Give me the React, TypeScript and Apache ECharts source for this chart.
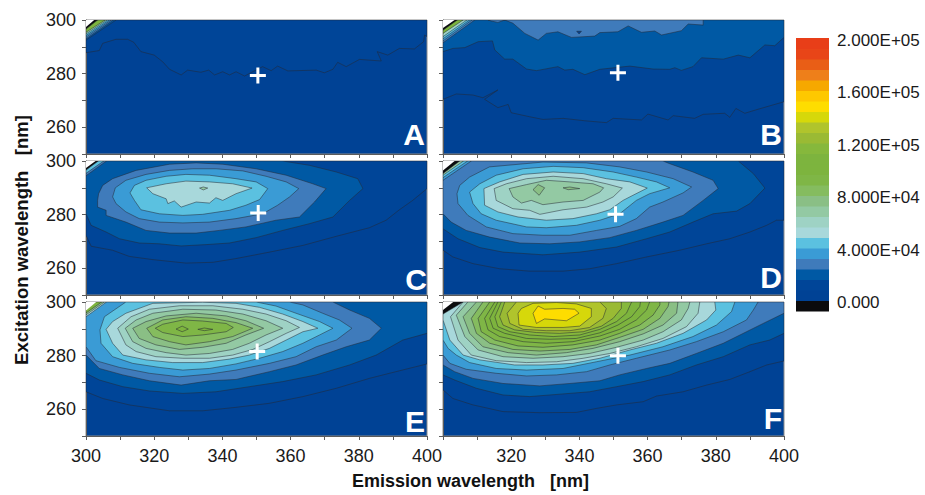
import React, { useEffect, useRef } from "react";
import * as echarts from "echarts";

type Contour = [number, number[][]];

// Colour-scale bands, bottom to top; index 0 is the under-range band, each band spans 8000 counts.
const bandColors = ["#0b0b0d", "#004295", "#004598", "#0059a4", "#3f7bbb", "#3a9bd5", "#5bc1e0", "#a8d8db", "#9ed2c4", "#93c9a3", "#8abf85", "#85bc5f", "#7fb646", "#7db43e", "#7db43e", "#86b83c", "#9aba34", "#b0c42c", "#d6d80a", "#fedd00", "#fec800", "#f6a800", "#ee7f1a", "#e95e16", "#e84518", "#e83e18"];
const bandLows = [-8000, 0, 8000, 16000, 24000, 32000, 40000, 48000, 56000, 64000, 72000, 80000, 88000, 96000, 104000, 112000, 120000, 128000, 136000, 144000, 152000, 160000, 168000, 176000, 184000, 192000];
const scaleTicks = [0, 40000, 80000, 120000, 160000, 200000];
const scaleTickLabels = ["0.000", "4.000E+04", "8.000E+04", "1.200E+05", "1.600E+05", "2.000E+05"];
const WHITE = 99;

const panelLetters = ["A", "B", "C", "D", "E", "F"];
const emissionLabelsE = [300, 320, 340, 360, 380, 400];
const emissionLabelsF = [320, 340, 360, 380, 400];
const excitationLabels = [260, 280, 300];

// Excitation peak markers [emission, excitation]
const markers = [[350.4, 279.3], [351.3, 280.3], [350.5, 280.6], [350.6, 280.1], [350.2, 281.5], [351.3, 279.9]];

const contoursA: Contour[] = [
  [2, [[300, 287.8], [303.9, 288.6], [304.9, 291.3], [308.8, 292.8], [312.2, 292.8], [314, 291.7], [316.1, 288.2], [320, 286.9], [322.5, 284.4], [324.5, 281.6], [327.9, 279.5], [329.8, 281.3], [333.7, 280.5], [336, 281.3], [337.7, 279.5], [340.1, 280.7], [342.1, 279.5], [344, 280.7], [346.5, 279.1], [351.8, 282.6], [354.3, 281.1], [356.2, 282.8], [359.2, 281], [367.5, 281.3], [369.9, 280.3], [372.4, 281.6], [373.8, 284.2], [376.3, 282.6], [380.2, 285.3], [386.6, 284.7], [385.4, 288.2], [388.5, 286.9], [391.9, 289.4], [396.3, 289.2], [399, 291.9], [399.3, 294.4], [400, 293.8], [400, 300], [300, 300]]],
  [3, [[300, 300], [308.8, 300], [300, 292.5]]],
  [4, [[300, 300], [308, 300], [300, 293]]],
  [5, [[300, 300], [307.4, 300], [300, 293.6]]],
  [6, [[300, 300], [306.8, 300], [300, 294.2]]],
  [9, [[300, 300], [306.2, 300], [300, 294.8]]],
  [13, [[300, 300], [305.6, 300], [300, 295.4]]],
  [0, [[300, 300], [303.4, 300], [300, 296.6]]],
  [WHITE, [[300, 300], [302.4, 300], [300, 297.4]]],
];

const contoursB: Contour[] = [
  [2, [[300, 270.4], [303.9, 272.4], [308.8, 272], [311.7, 271], [316.1, 273.9], [312.2, 270.4], [316.1, 267.3], [319.1, 268.5], [320, 265.4], [325.4, 263.9], [329.3, 262.9], [335.2, 263.3], [341.6, 262.4], [347.9, 261.7], [349.9, 263.3], [358.2, 262.7], [360.1, 264.9], [366, 262.7], [367.5, 264.3], [373.8, 263.3], [376.3, 264.8], [382.6, 265.2], [384.1, 263.7], [385.9, 267], [388.5, 265.2], [392.4, 266.7], [400, 269.5], [400, 300], [300, 300]]],
  [3, [[300, 288.2], [302.9, 289.4], [306.4, 289.7], [310.3, 291.9], [314.5, 292.2], [315.2, 288.8], [318.1, 285.4], [320.5, 285.4], [324.5, 281.7], [327.4, 281.1], [333.7, 282.6], [335.7, 281.3], [338.1, 281.6], [341.6, 279.6], [346, 281.6], [354.8, 282.8], [361.6, 281.7], [366.5, 281.6], [368, 282.2], [369.9, 281.2], [373.3, 282.6], [375.8, 285.9], [382.2, 285.4], [386.6, 286.9], [390, 285.9], [394.4, 290.7], [397.3, 290.4], [400, 293.5], [400, 300], [300, 300]]],
  [4, [[313.2, 300], [314.2, 299.6], [316.1, 299.1], [318.1, 300], [320.5, 298.8], [324, 295], [327.9, 292.5], [330.3, 295], [333.7, 295.6], [337.7, 293.5], [344.5, 294], [346, 295.3], [351.3, 295.6], [354.3, 297.8], [358.2, 295.4], [362.1, 295.9], [364.1, 294.4], [369.9, 296], [371.9, 298.5], [376.3, 298.1], [376.3, 300]]],
  [1, [[339.2, 295.8], [340.6, 295.8], [339.9, 294.8]]],
  [4, [[300, 300], [309.3, 300], [300, 291.5]]],
  [5, [[300, 300], [308.5, 300], [300, 292.2]]],
  [6, [[300, 300], [307.8, 300], [300, 293]]],
  [8, [[300, 300], [307, 300], [300, 293.8]]],
  [13, [[300, 300], [305.9, 300], [300, 295]]],
  [0, [[300, 300], [304.2, 300], [300, 296.2]]],
  [WHITE, [[300, 300], [303.4, 300], [300, 297]]],
];

const contoursC: Contour[] = [
  [2, [[300, 272.3], [301.5, 268.2], [307.8, 266.7], [312.7, 264.4], [319.6, 263.2], [329.3, 261.9], [337.2, 262.2], [344, 263.6], [353.8, 266], [363.6, 268.5], [373.4, 271.9], [383.1, 275.1], [388, 277.9], [391.9, 281.8], [395.8, 285.3], [400, 289.7], [400, 300], [300, 300]]],
  [3, [[300, 280.3], [301.5, 276], [305.9, 273.5], [309.8, 271], [315.6, 269.4], [321.5, 269.1], [327.9, 268.3], [335.2, 268.8], [342.1, 269.4], [349.9, 271.4], [357.7, 274.1], [365.5, 276.6], [372.4, 279.1], [377.3, 285.3], [381.2, 289.7], [379.7, 293.4], [373.4, 295.9], [365.5, 298.4], [357.7, 300], [300, 300]]],
  [4, [[303.4, 285.3], [303.4, 282.8], [305.9, 281.6], [305.9, 279.7], [311.7, 277.2], [317.6, 274.1], [324.5, 273.1], [332.3, 273.1], [339.1, 274.1], [346.9, 275.4], [355.7, 277.9], [362.6, 279.1], [367, 284.7], [370.4, 289.7], [366.5, 291.5], [358.7, 294.7], [349.9, 297.1], [340.1, 298.8], [332.3, 299.3], [324.5, 298.8], [314.7, 296.5], [307.8, 293.4], [304.9, 290.9], [303.7, 287.8]]],
  [5, [[307.8, 286.6], [308.8, 284.1], [311.7, 281], [315.6, 278.5], [321.5, 277.2], [328.4, 276.9], [336.2, 277.2], [344, 278.5], [351.8, 280.3], [356.2, 283.5], [359.7, 286.6], [362.4, 289.7], [358.7, 292.2], [352.8, 294.3], [346, 296.3], [338.1, 297.1], [331.3, 297.1], [324.5, 296.5], [317.6, 295], [311.7, 292.8], [308.6, 290]]],
  [6, [[312.9, 288.1], [314.2, 285.3], [316.1, 281.8], [321.5, 280.3], [328.4, 279.7], [334.2, 280.1], [342.1, 281.6], [346.9, 283.5], [350.9, 285.6], [353.3, 289.7], [349.9, 292.2], [344, 293.4], [336.2, 294.7], [329.3, 295], [323.5, 294.3], [317.6, 292.8], [314.2, 290.9]]],
  [7, [[317.8, 290], [319.6, 287.8], [323.5, 285.9], [324, 284.1], [325.9, 285.1], [327.9, 282.8], [332.3, 284.7], [336.2, 284.3], [338.1, 286.3], [340.1, 285.3], [344, 287.8], [348.7, 289.9], [343, 291.5], [336.2, 292.2], [329.3, 292.5], [323.5, 291.5]]],
  [9, [[333.3, 289.9], [334.4, 290.3], [335.7, 289.9], [334.4, 289.2]]],
  [4, [[300, 300], [306, 300], [300, 294.5]]],
  [6, [[300, 300], [305.2, 300], [300, 295.4]]],
  [0, [[300, 300], [303.6, 300], [300, 296.6]]],
  [WHITE, [[300, 300], [302.8, 300], [300, 297.4]]],
];

const contoursD: Contour[] = [
  [2, [[300, 266.7], [302.9, 264.2], [308.8, 261.7], [316.6, 259.8], [325.4, 258.9], [335.2, 258.9], [343, 259.8], [350.9, 261.7], [359.7, 264.2], [369.4, 266.7], [377.3, 269.1], [384.1, 271], [390, 273.5], [394.9, 276], [397.8, 277.9], [400, 277.9], [400, 300], [300, 300]]],
  [3, [[300, 274.7], [304.4, 271], [310.8, 267.7], [317.6, 266], [329.3, 265], [340.1, 266], [350.9, 267.9], [359.7, 271], [366.5, 273.5], [373.3, 277.2], [379.2, 280.3], [386.1, 281.3], [390, 284.1], [394.4, 289.9], [391, 295.3], [386.6, 300], [300, 300]]],
  [4, [[300, 280.3], [302.4, 277.2], [306.8, 274.1], [313.7, 271.6], [322.5, 269.4], [331.3, 269.1], [340.1, 269.8], [348.9, 271.4], [356.7, 274.1], [364.5, 277.2], [370.4, 279.7], [376.3, 285.3], [380.7, 289.7], [379.2, 292.8], [373.3, 295.9], [366.5, 299], [364.5, 300], [300, 300]]],
  [5, [[304.1, 287.8], [304.4, 284.1], [307.3, 279.7], [312.7, 275.4], [320.5, 272.9], [329.3, 272.3], [337.2, 272.3], [345, 274.1], [351.8, 275.6], [356.7, 278.5], [360.6, 282.8], [364.5, 284.7], [370.4, 288.1], [372.9, 290.3], [367.5, 293.4], [359.7, 295.9], [351.8, 297.8], [342.1, 299.3], [329.3, 299.6], [313.6, 297.8], [307.8, 294], [304.9, 290.9]]],
  [6, [[307.8, 288.4], [308.8, 284.1], [311.2, 280.3], [315.6, 277.9], [324.5, 275.4], [330.3, 275.1], [339.1, 276], [346, 277.9], [351.8, 280.3], [356.7, 285.3], [360.6, 287.8], [366.5, 290], [362.6, 292.2], [356.7, 294], [349.9, 295.9], [341.1, 297.5], [332.3, 298], [323.5, 297.1], [315.6, 294.7], [310.8, 291.5]]],
  [7, [[312, 289.7], [312.2, 283.5], [316.1, 281], [322, 279.1], [330.3, 277.9], [338.1, 278.5], [345, 280.3], [348.9, 281.8], [352.8, 285.3], [355.7, 287.2], [359.9, 289.9], [354.8, 292.2], [347.9, 293.4], [341.1, 295.3], [332.3, 295.9], [323.5, 295], [316.6, 292.2]]],
  [8, [[315, 289.7], [315.6, 285.3], [320.5, 282.2], [325.4, 281.6], [328.4, 280.1], [335.2, 281.8], [342.1, 282.8], [346.9, 284.7], [349.9, 286.6], [352.6, 289.9], [347.9, 291.5], [341.1, 293.4], [332.3, 294.3], [324.5, 293.4], [318.6, 291.5]]],
  [9, [[319.4, 289.7], [320.5, 286.6], [323, 284.3], [325.9, 285.3], [329.3, 283.7], [335.2, 284.7], [341.1, 285.3], [346, 288.4], [347.1, 290], [344, 291.5], [337.2, 292.2], [330.3, 292.8], [324.5, 291.2]]],
  [10, [[326.4, 289.3], [328.2, 287.2], [329.8, 290], [327.9, 291.2]]],
  [10, [[335.2, 290], [336.7, 289.3], [340.1, 289.7], [337.2, 290.3]]],
  [5, [[300, 300], [308.3, 300], [300, 292.8]]],
  [6, [[300, 300], [307.2, 300], [300, 293.8]]],
  [9, [[300, 300], [306, 300], [300, 294.7]]],
  [0, [[300, 300], [304.9, 300], [300, 295.3]]],
  [WHITE, [[300, 300], [303.4, 300], [300, 296.5]]],
];

const contoursE: Contour[] = [
  [2, [[300, 266.5], [304.9, 264], [312.7, 261.6], [324.5, 259.4], [334.2, 259.4], [344, 260.7], [353.8, 262.2], [363.6, 264.7], [373.4, 267.8], [383.1, 271.5], [389, 273.4], [400, 276.9], [400, 300], [300, 300]]],
  [3, [[300, 273.4], [303.9, 270.9], [310.8, 268.4], [318.6, 266.8], [328.4, 265.9], [338.1, 266.5], [347.9, 268.4], [357.7, 270.3], [367.5, 272.8], [377.3, 276.5], [385.1, 280.2], [392.9, 285.8], [400, 288.3], [400, 300], [300, 300]]],
  [4, [[300, 280.2], [303.9, 275.2], [310.8, 272.8], [318.6, 270.6], [327.9, 269], [336.2, 270.6], [344, 271.1], [353.8, 274], [361.6, 276.5], [369.4, 280.2], [376.3, 283.3], [383.1, 285.8], [386.6, 290.2], [383.1, 293.9], [377.3, 297], [372.4, 300], [300, 300]]],
  [5, [[300, 283.3], [302.9, 278.1], [309.8, 275.6], [318.6, 273.4], [327.4, 272.1], [336.2, 273.1], [344, 274.6], [353.8, 277.1], [361.6, 279.6], [367.5, 283.3], [373.4, 285.8], [378, 290.2], [374.3, 293.3], [369.4, 295.8], [363.6, 298.9], [359.7, 300], [300, 300]]],
  [6, [[304.1, 289.6], [304.4, 284.6], [307.8, 279.6], [313.7, 277.1], [321.5, 275.6], [328.4, 274.6], [336.2, 275.2], [344, 276.9], [350.9, 279], [357.7, 281.5], [363.6, 284.6], [368.5, 287.7], [372.4, 290.2], [368.5, 292.7], [361.6, 295.8], [355.7, 298.5], [349.9, 300], [311.7, 300], [305.4, 294.5]]],
  [7, [[305.9, 289.8], [307.8, 284.6], [310.8, 280.2], [317.6, 278.4], [325.4, 277.4], [334.2, 277.4], [342.1, 278.7], [347.9, 280.2], [353.8, 282.7], [358.7, 285.8], [363.6, 288.9], [368, 290.2], [363.6, 292.7], [357.7, 295.5], [350.9, 298], [344, 299.5], [334.2, 299.9], [319.6, 299.5], [311.7, 295.8], [307.8, 292.7]]],
  [8, [[309.3, 290.2], [311.7, 284], [314.7, 281.5], [320.5, 279.6], [328.4, 279], [336.2, 279], [343, 280.2], [348.9, 282.3], [353.8, 285.2], [358.7, 288.3], [362.6, 290.5], [358.7, 293], [352.8, 295.5], [346, 297.3], [337.2, 298.6], [327.4, 298.6], [318.6, 297.3], [313.2, 294.5]]],
  [9, [[311.5, 290.2], [313.7, 285.2], [317.6, 282.7], [323.5, 281.1], [329.3, 280.2], [336.2, 280.8], [343, 282.3], [347.9, 284.6], [352.8, 287.7], [357.7, 290.2], [352.8, 293], [346, 295.5], [338.1, 297], [328.4, 297.3], [319.6, 295.8], [314.7, 293.3]]],
  [10, [[313.7, 290.2], [315.6, 286.4], [320.5, 284], [327.4, 282.3], [334.2, 283.1], [341.1, 284.6], [346.9, 287.7], [352.1, 290.2], [346.9, 293], [341.1, 294.8], [332.3, 295.8], [323.5, 294.8], [317.6, 292.7]]],
  [11, [[317.8, 290.2], [319.6, 287.1], [324.5, 285.2], [329.3, 284], [336.2, 285.2], [343, 287.1], [348.9, 290.2], [344, 292.3], [337.2, 293.9], [329.3, 294.5], [322.5, 293.3]]],
  [12, [[320.3, 290.2], [322.5, 288.6], [328.4, 287.1], [334.2, 287.7], [341.1, 288.9], [343.2, 290.5], [341.1, 292], [334.2, 292.9], [328.4, 293.3], [322.5, 291.7]]],
  [13, [[326.4, 289.9], [328.2, 288.9], [330, 289.9], [328.2, 291]]],
  [13, [[332.8, 289.8], [334.7, 289.3], [337.2, 289.8], [334.7, 290.3]]],
  [7, [[300, 300], [306, 300], [300, 294.5]]],
  [10, [[300, 300], [305.4, 300], [300, 295.2]]],
  [13, [[300, 300], [304.6, 300], [300, 295.9]]],
  [WHITE, [[300, 300], [303, 300], [300, 296.8]]],
];

const contoursF: Contour[] = [
  [2, [[300, 267.2], [302.9, 264], [308.8, 261.6], [317.6, 259.1], [328.4, 258.7], [339.1, 258.8], [345, 260.3], [350.9, 261.6], [358.7, 262.8], [362.6, 264.9], [370.4, 266.5], [377.3, 269], [384.1, 271.1], [390, 274], [394.9, 276.5], [400, 278], [400, 300], [300, 300]]],
  [3, [[300, 272.8], [303.4, 270.9], [309.8, 267.8], [317.6, 265.3], [325.4, 264.7], [335.2, 265.7], [343, 266.5], [350.9, 268.4], [358.7, 270.3], [366.5, 272.8], [374.3, 276.5], [382.2, 279.6], [390, 284], [395.8, 285.8], [400, 288.3], [400, 300], [300, 300]]],
  [4, [[300, 276.5], [303.4, 274], [308.8, 271.5], [317.6, 269.6], [328.4, 268.7], [337.2, 269.6], [346, 270.6], [351.8, 272.8], [359.7, 275.2], [366.5, 277.1], [374.3, 280.8], [382.2, 284.6], [389, 288.9], [393.9, 292], [400, 295.8], [400, 300], [300, 300]]],
  [5, [[300, 280.2], [302, 277.1], [306.8, 274.9], [315.6, 273.4], [324.5, 272.4], [333.3, 272.8], [342.1, 274], [348.9, 276.5], [356.7, 279], [366.5, 282.1], [374.3, 285.2], [382.2, 288.9], [389, 293.3], [391, 297], [392.4, 300], [300, 300]]],
  [6, [[300, 285.8], [301.5, 282.7], [303.9, 280.2], [307.8, 277.4], [315.6, 275.2], [324.5, 274.6], [335.2, 275.2], [345, 277.7], [354.8, 280.2], [364.5, 283.3], [373.3, 287.1], [380.2, 291.4], [384.6, 296.4], [385.6, 300], [300, 300]]],
  [7, [[300, 293.3], [302, 285.8], [305.9, 280.2], [310.8, 278.4], [321, 276.5], [329.3, 276.5], [338.1, 277.1], [346, 279], [354.8, 282.1], [362.6, 284.6], [370.4, 288.3], [377.3, 293.3], [380, 297], [379.7, 300], [300, 300]]],
  [8, [[302.2, 294.5], [304.4, 285.8], [308.3, 280.2], [315.6, 278.1], [324.5, 277.4], [333.3, 277.7], [341.1, 279], [348.9, 280.8], [356.7, 283.3], [364.5, 286.4], [371.4, 290.8], [374.8, 295.8], [375.3, 300], [305.9, 300]]],
  [9, [[303.9, 295.1], [306.4, 287.1], [310.3, 282.1], [317.6, 279.6], [326.4, 279], [335.2, 279.6], [343, 280.8], [350.9, 283.1], [358.7, 285.8], [364.5, 288.9], [369.9, 293.3], [371.9, 297.6], [372.4, 300], [307.3, 300]]],
  [10, [[305.9, 294.5], [307.8, 288.3], [311.7, 283.3], [319.1, 281.1], [327.4, 280.2], [336.2, 281.1], [344, 282.7], [351.8, 285.2], [358.7, 288.1], [364.5, 291.4], [368.5, 295.8], [368.9, 300], [309.8, 300]]],
  [11, [[308.3, 293.9], [309.8, 288.3], [313.7, 284.6], [320.5, 282.3], [328.4, 281.7], [337.2, 282.3], [345, 284], [351.8, 286.8], [358.7, 289.8], [363.6, 293.9], [366, 298.3], [366.3, 300], [311.7, 300]]],
  [12, [[310.3, 293.9], [311.2, 288.9], [315.2, 285.8], [322, 283.6], [329.3, 283.1], [338.1, 284], [346, 285.8], [351.8, 288.3], [357.7, 291.4], [361.6, 295.1], [363.6, 298.9], [363.6, 300], [313.7, 300]]],
  [13, [[312.2, 293.9], [313.2, 289.6], [316.6, 287.1], [323.5, 285.2], [330.3, 284.6], [338.1, 285.2], [346, 287.3], [351.8, 289.8], [356.7, 293.3], [359.7, 297], [360.6, 300], [315.2, 300]]],
  [14, [[313.7, 293.9], [314.7, 290.2], [318.1, 288.3], [324.5, 286.4], [331.3, 286.1], [339.1, 286.4], [346, 288.5], [351.3, 291.4], [355.3, 294.5], [357.7, 298.3], [357.9, 300], [316.1, 300]]],
  [15, [[315.2, 294.5], [316.1, 290.8], [319.6, 288.9], [325.4, 287.7], [332.3, 287.1], [340.1, 287.7], [346, 289.8], [350.9, 292.7], [353.8, 295.8], [355.3, 300], [317.1, 300]]],
  [16, [[316.6, 294.5], [317.6, 291.4], [321, 289.6], [327.4, 288.6], [334.2, 288.3], [341.1, 288.9], [346.5, 291], [349.9, 293.9], [352.3, 297.6], [352.3, 300], [318.1, 300]]],
  [17, [[318.8, 295.8], [319.6, 292], [323.5, 289.8], [330.3, 289.3], [337.2, 289.3], [343, 290.5], [346.9, 293.9], [347.9, 297.6], [346, 300], [321.5, 300]]],
  [18, [[322, 295.8], [322.3, 291.4], [327.4, 290.5], [335.2, 290.5], [340.1, 291], [343.5, 294.5], [343.5, 297.6], [339.1, 299.3], [333.3, 299.8], [326.4, 299.5], [323, 297.6]]],
  [19, [[326.4, 295.8], [327.4, 292], [329.8, 293.7], [336.2, 293], [339.9, 295.8], [338.6, 297.3], [335.2, 297.6], [329.8, 297.3], [327.9, 298.5]]],
  [0, [[300, 300], [305.9, 300], [300, 295.5]]],
  [WHITE, [[300, 300], [303, 300], [300, 297]]],
];

const panelContours = [contoursA, contoursB, contoursC, contoursD, contoursE, contoursF];

const AXIS = "#5c5c5c";
const TEXT = "#1a1a1a";
const FONT = "'Liberation Sans', Arial, sans-serif";
const gridBoxes = [
  { left: 86, top: 20 }, { left: 443, top: 20 },
  { left: 86, top: 161 }, { left: 443, top: 161 },
  { left: 86, top: 302 }, { left: 443, top: 302 },
];
const letterBoxes = [
  { x: 425, y: 134 }, { x: 782, y: 134 },
  { x: 427, y: 279 }, { x: 782, y: 277 },
  { x: 425, y: 421 }, { x: 782, y: 418 },
];

function buildOption() {
  const grids: any[] = gridBoxes.map((g) => ({ ...g, width: 341, height: 134, show: true, backgroundColor: bandColors[1], borderColor: "#8a8a8a", borderWidth: 1 }));
  grids.push({ left: 796, top: 38, width: 33, height: 273 });

  const xAxes: any[] = gridBoxes.map((_, i) => ({
    type: "value", gridIndex: i, min: 300, max: 400, interval: 10,
    axisLine: { show: true, onZero: false, lineStyle: { color: AXIS } },
    axisTick: { show: true, length: 4, lineStyle: { color: AXIS } },
    splitLine: { show: false },
    axisLabel: {
      show: i >= 4, margin: 11, fontSize: 18, color: TEXT, fontFamily: FONT, hideOverlap: false,
      formatter: (v: number) => ((i === 4 ? emissionLabelsE : emissionLabelsF).includes(v) ? String(v) : ""),
    },
  }));
  const yAxes: any[] = gridBoxes.map((_, i) => ({
    type: "value", gridIndex: i, min: 250, max: 300, interval: 10,
    axisLine: { show: true, onZero: false, lineStyle: { color: AXIS } },
    axisTick: { show: true, length: 4, lineStyle: { color: AXIS } },
    splitLine: { show: false },
    axisLabel: {
      show: i % 2 === 0, margin: 10, fontSize: 18, color: TEXT, fontFamily: FONT,
      formatter: (v: number) => (excitationLabels.includes(v) ? String(v) : ""),
    },
  }));
  xAxes.push({ type: "value", gridIndex: 6, min: 0, max: 1, show: false });
  yAxes.push({
    type: "value", gridIndex: 6, position: "right", min: -8000, max: 200000,
    axisLine: { show: false }, axisTick: { show: false }, splitLine: { show: false },
    axisLabel: {
      show: true, margin: 8, fontSize: 17, color: TEXT, fontFamily: FONT,
      customValues: scaleTicks,
      formatter: (v: number) => `{a|${scaleTickLabels[scaleTicks.indexOf(v)]}}`,
      rich: { a: { fontSize: 17, color: TEXT, fontFamily: FONT, padding: [4, 0, 0, 0] } },
    },
  });

  const series: any[] = [];
  panelContours.forEach((contours, i) => {
    series.push({
      type: "custom", xAxisIndex: i, yAxisIndex: i, clip: true, silent: true, z: 2,
      data: contours.map((_, k) => [k]),
      renderItem: (params: any, api: any) => {
        const [band, pts] = contours[params.dataIndex];
        return {
          type: "polygon",
          shape: { points: pts.map((p) => api.coord(p)) },
          style: {
            fill: band === WHITE ? "#ffffff" : bandColors[band],
            stroke: band === WHITE ? "transparent" : "rgba(35,40,50,0.5)",
            lineWidth: 1,
          },
        };
      },
    });
    series.push({
      type: "scatter", xAxisIndex: i, yAxisIndex: i, z: 5, silent: true,
      data: [markers[i]],
      symbol: "path://M6.5 0h3v6.5H16v3H9.5V16h-3V9.5H0v-3h6.5z",
      symbolSize: 16,
      itemStyle: { color: "#ffffff", opacity: 1 },
    });
  });
  series.push({
    type: "custom", xAxisIndex: 6, yAxisIndex: 6, silent: true,
    data: bandLows.map((low) => [low]),
    renderItem: (params: any, api: any) => {
      const low = bandLows[params.dataIndex];
      const a = api.coord([0, low + 8000]);
      const b = api.coord([1, low]);
      return {
        type: "rect",
        shape: { x: a[0], y: a[1], width: b[0] - a[0], height: b[1] - a[1] + 0.5 },
        style: { fill: bandColors[params.dataIndex] },
      };
    },
  });

  const graphic: any[] = panelLetters.map((t, i) => ({
    type: "text", x: letterBoxes[i].x, y: letterBoxes[i].y, z: 20,
    style: { text: t, fill: "#ffffff", font: `bold 30px ${FONT}`, textAlign: "right", textVerticalAlign: "middle" },
  }));
  graphic.push({
    type: "text", x: 470.5, y: 481, z: 20,
    style: { text: "Emission wavelength   [nm]", fill: "#111", font: `bold 18px ${FONT}`, textAlign: "center", textVerticalAlign: "middle" },
  });
  graphic.push({
    type: "text", x: 21, y: 240, rotation: Math.PI / 2, z: 20,
    style: { text: "Excitation wavelength   [nm]", fill: "#111", font: `bold 18.5px ${FONT}`, textAlign: "center", textVerticalAlign: "middle" },
  });

  return { animation: false, backgroundColor: "#ffffff", grid: grids, xAxis: xAxes, yAxis: yAxes, series, graphic };
}

export default function App() {
  const ref = useRef<HTMLDivElement>(null);
  useEffect(() => {
    const chart = echarts.init(ref.current!, null, { renderer: "svg" });
    chart.setOption(buildOption());
    return () => chart.dispose();
  }, []);
  return <div ref={ref} style={{ position: "absolute", left: 0, top: 0, width: 925, height: 495 }} />;
}
